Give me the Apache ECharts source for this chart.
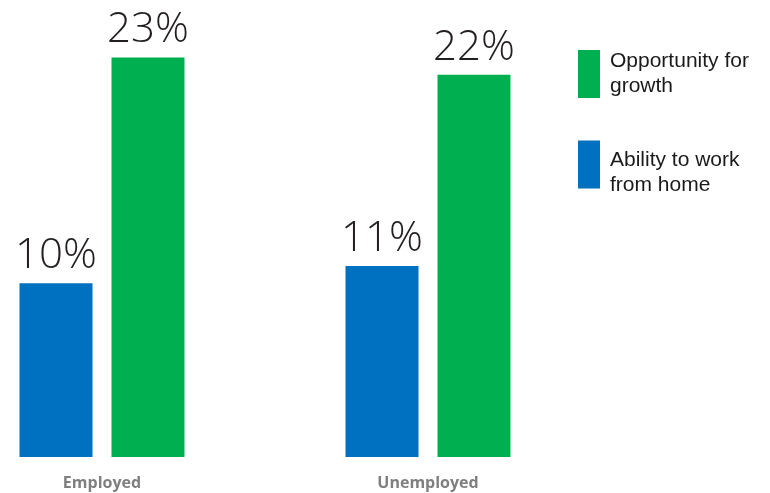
<!DOCTYPE html>
<html>
<head>
<meta charset="utf-8">
<script src="https://cdn.jsdelivr.net/npm/echarts@6/dist/echarts.min.js"></script>
<style>
  html, body { margin: 0; padding: 0; background: #fff; }
  #chart { width: 770px; height: 493px; }
</style>
</head>
<body>
<div id="chart"></div>
<script>
// Share of respondents naming each factor, by employment status
const categories = ['Employed', 'Unemployed'];
const seriesNames = ['Ability to work from home', 'Opportunity for growth'];
const workFromHome = [10, 11];
const growth = [23, 22];
const legendLines = {
  'Opportunity for growth': ['Opportunity for', 'growth'],
  'Ability to work from home': ['Ability to work', 'from home']
};

const chart = echarts.init(document.getElementById('chart'), null, { renderer: 'canvas' });

const valueLabel = {
  show: true,
  position: 'top',
  distance: 6,
  formatter: '{c}%',
  color: '#231f20',
  fontFamily: 'Open Sans',
  fontWeight: 300,
  fontSize: 42
};

// one legend block per entry so each swatch/text pair can sit independently;
// an optional spacer line pushes the text down against its swatch
function legendEntry(name, top, spacer) {
  return {
    orient: 'vertical',
    left: 573,
    top: top,
    itemWidth: 22,
    itemHeight: 48,
    icon: 'rect',
    selectedMode: false,
    data: [name],
    formatter: n => {
      const lines = legendLines[n].map(s => '{t|' + s + '}');
      return (spacer ? ['{pad|}'] : []).concat(lines).join('\n');
    },
    textStyle: {
      rich: {
        t: {
          fontFamily: 'Liberation Sans',
          fontSize: 21,
          lineHeight: 25,
          color: '#1a1a1a',
          padding: [0, 0, 0, 5]
        },
        pad: { lineHeight: spacer || 1, fontSize: 1 }
      }
    }
  };
}

chart.setOption({
  animation: false,
  grid: { left: 102, width: 326, top: 40, bottom: 36, containLabel: false },
  legend: [
    legendEntry(seriesNames[1], 45, 0),
    legendEntry(seriesNames[0], 134, 16)
  ],
  xAxis: {
    type: 'category',
    data: categories,
    boundaryGap: false,
    axisLine: { show: false },
    axisTick: { show: false },
    axisLabel: {
      margin: 18,
      color: '#7f7f7f',
      fontFamily: 'Open Sans',
      fontWeight: 'bold',
      fontSize: 16
    }
  },
  yAxis: {
    type: 'value',
    min: 0,
    max: 24,
    show: false,
    splitLine: { show: false }
  },
  series: [
    {
      name: seriesNames[0],
      type: 'bar',
      data: workFromHome,
      barWidth: 73,
      barGap: '26%',
      itemStyle: { color: '#0070c0' },
      label: valueLabel
    },
    {
      name: seriesNames[1],
      type: 'bar',
      data: growth,
      barWidth: 73,
      barGap: '26%',
      itemStyle: { color: '#00b050' },
      label: valueLabel
    }
  ]
});
</script>
</body>
</html>
